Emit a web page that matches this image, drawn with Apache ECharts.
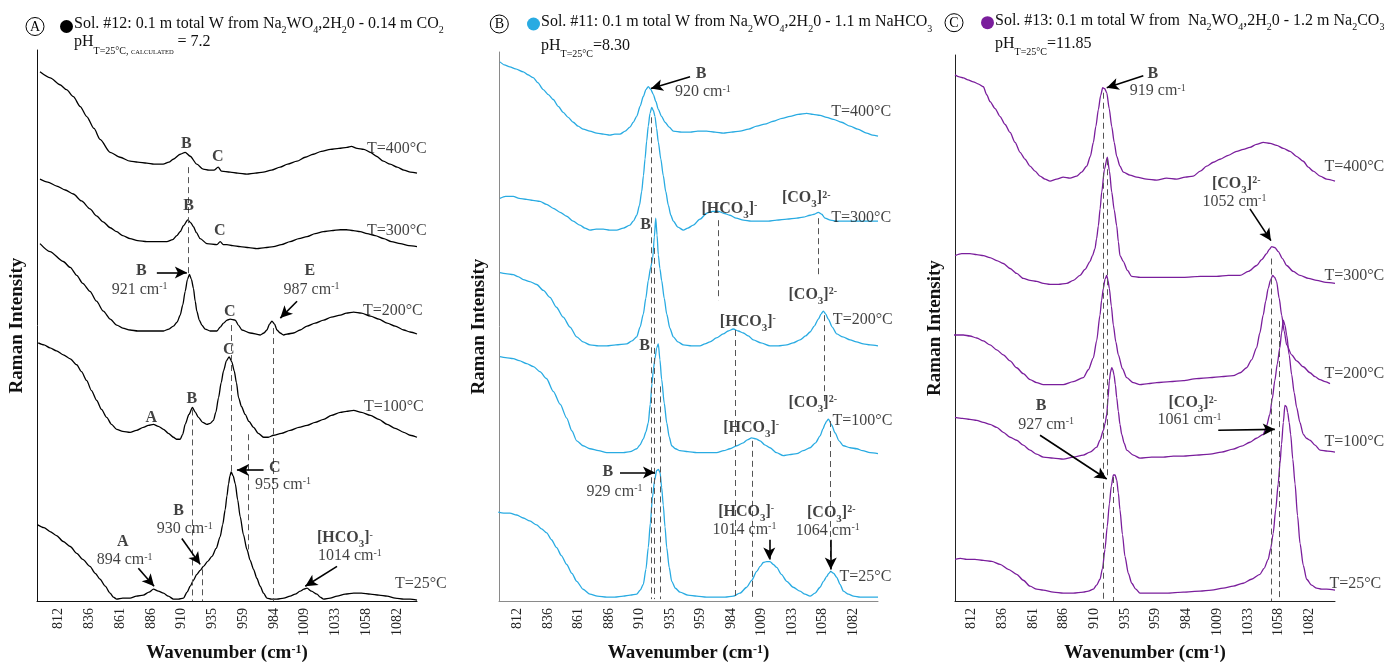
<!DOCTYPE html>
<html><head><meta charset="utf-8">
<script src="https://cdn.jsdelivr.net/npm/echarts@6/dist/echarts.min.js"></script>
<style>html,body{margin:0;padding:0;background:#fff}#c{width:1390px;height:668px}</style>
</head><body><div id="c"></div>
<script>
const FONT = '"Liberation Serif","Times New Roman",serif';
const tickValues = [811.8, 836.4, 861, 885.6, 910.2, 934.8, 959.4, 984, 1008.6, 1033.2, 1057.8, 1082.4];
const temps = ['T=400°C', 'T=300°C', 'T=200°C', 'T=100°C', 'T=25°C'];

// Panel A : Sol. #12 (wavenumber, intensity)
const A400 = [[796.8,533],[805,527],[812.8,520],[818,515],[823.5,508],[829,498],[834.2,488],[840,476],[844.9,465],[852.9,452],[860.9,447],[868.9,443],[875,442],[882.3,441],[888,440],[895.3,440],[900,442],[903.4,445],[909,450],[913,452],[917,448],[922.3,440],[927.4,435],[932,434],[936,434],[939.4,437],[942,433],[949,432],[955,431],[962.4,430],[969,431],[975.5,432],[982,434],[989,437],[995,440],[1002.5,443],[1009,447],[1015.5,450],[1022,453],[1029.2,455],[1036,456],[1042.5,457],[1046,458],[1050.5,456],[1056,455],[1061.2,452],[1066,448],[1071.6,443],[1077,440],[1082.6,437],[1088,434],[1093.3,432],[1098.5,431]];
const A300 = [[796.8,425],[803,422],[810.2,418],[817,414],[823.5,410],[830,403],[836.8,395],[842,388],[847.3,382],[853,376],[858.2,372],[863,368],[868.9,365],[875,363],[882.3,362],[890,362],[898.3,362],[903,364],[906.3,368],[909,372],[911.6,378],[915.1,384],[917.5,381],[919.6,377],[922,371],[925,365],[930.4,360],[938.4,359],[941,362],[943.5,359],[946.4,359],[951,358],[957,357],[964,356],[970.4,355],[977,356],[983.7,357],[990,359],[997,362],[1004,365],[1010.5,367],[1017,370],[1023.6,372],[1030,373],[1037.2,374],[1042,374],[1047.6,373],[1053,372],[1058.6,370],[1065,368],[1071.9,365],[1078,362],[1085.2,360],[1092,358],[1098.5,357]];
const A200 = [[796.8,360],[804.8,352],[815.4,342],[821,336],[826.2,328],[831,320],[836.8,312],[842,302],[847.5,292],[853,284],[858.2,278],[863,275],[868.9,273],[875,272],[882.3,272],[889,272],[895.6,272],[900,274],[903.6,277],[906.5,281],[909,288],[911,298],[913,312],[914.8,324],[916.4,329],[918,324],[919.6,315],[921,302],[922.3,292],[924.3,283],[926.3,278],[929,274],[933,272],[938.4,272],[941,276],[943.7,280],[946.5,283],[949,284],[953.1,283],[955.5,278],[958.4,273],[965,270],[973,268],[976,270],[978.4,273],[980.5,279],[982.4,282],[984.5,279],[986.4,273],[989,270],[991.7,268],[995,269],[999.7,270],[1005,273],[1010.5,277],[1017,280],[1023.8,283],[1030,286],[1037.2,288],[1042,290],[1047.8,291],[1054,290],[1061.2,287],[1068,284],[1074.6,280],[1081,277],[1087.9,273],[1093,271],[1098.5,269]];
const A100 = [[795.4,260],[800,258],[804.8,255],[810,252],[815.4,248],[821,244],[826.2,238],[830,231],[834.2,222],[838,212],[842.2,202],[846,193],[850.2,185],[854,178],[858.2,173],[863,171],[868.9,170],[874,172],[879.5,175],[883.5,177],[887.6,178],[891.5,176],[895.6,173],[899.5,169],[903.6,165],[906,163],[909,163],[911,168],[913,178],[916,188],[918.8,195],[921.2,190],[923.6,185],[927,180],[930.4,178],[933,179],[935.6,182],[937.5,190],[939.7,205],[941.8,220],[943.7,232],[946,242],[948.2,246],[950.3,241],[952.2,232],[954,220],[955.7,205],[958,196],[961,188],[964,181],[967.7,175],[971.5,169],[975.7,165],[979.5,165],[983.7,167],[990,169],[997,172],[1004,175],[1010.5,177],[1017,180],[1023.8,183],[1030,187],[1037.2,190],[1042,191],[1047.8,192],[1054,190],[1061.2,187],[1068,183],[1074.6,178],[1081,174],[1087.9,170],[1093,167],[1098.5,165]];
const A25 = [[794.6,77],[800,74],[804.8,70],[810,66],[815.4,60],[821,55],[826.2,48],[831,42],[836.8,35],[841,28],[844.9,22],[849,15],[852.9,8],[855.5,4],[858.2,2],[863,3],[868.9,3],[874,5],[879.5,6],[884,9],[887.6,12],[891.5,10],[895.6,8],[899.5,5],[903.6,2],[907.5,2],[911.6,3],[914.5,9],[917,15],[919.6,21],[922.3,27],[925,31],[927.6,35],[931,40],[934.4,45],[937.8,53],[941,65],[943,77],[945,92],[946.4,106],[947.7,118],[948.8,126],[949.8,130],[951.4,126],[953.1,118],[955,102],[957,85],[959.6,67],[962.4,52],[965,41],[967.7,32],[970.3,23],[973,15],[975.7,8],[978.4,3],[982,2],[986.4,2],[992,3],[997,5],[1001,7],[1005,10],[1008,12],[1010.5,13],[1014,10],[1018.5,7],[1021,4],[1023.8,2],[1029,3],[1034.5,5],[1041,7],[1047.8,8],[1054,8],[1061.2,7],[1068,6],[1074.6,5],[1081,3],[1087.9,2],[1093,2],[1098.5,1]];

// Panel B : Sol. #11
const B400 = [[797.5,545],[801,542],[805.5,540],[810,538],[816.3,535],[820,532],[824.3,529],[828,524],[832.4,517],[836.5,512],[840.5,507],[844.5,500],[848.5,494],[852.5,489],[856.6,484],[860.5,480],[864.7,477],[870,475],[875.5,473],[881,472],[886.2,471],[890,472],[894.3,472],[898.5,475],[902.3,479],[905,484],[907.8,490],[910.5,500],[913.1,510],[915.2,517],[917.1,520],[919.2,517],[921.2,512],[923.2,505],[925.2,497],[927.8,490],[930.6,484],[934,479],[937.3,475],[944,474],[951,474],[957,475],[964.2,475],[971,474],[977.6,473],[984,474],[991.1,475],[998,477],[1004.6,480],[1011,482],[1018,485],[1025,488],[1031.5,490],[1038,492],[1044.9,493],[1050,492],[1055.7,491],[1061,489],[1066.4,487],[1073,484],[1079.9,480],[1086,477],[1093.3,473],[1098,471],[1102.4,470]];
const B300 = [[797.5,407],[802,409],[808.2,409],[813,407],[819,406],[824,405],[829.7,404],[835,401],[840.5,397],[846,393],[851.3,389],[856.5,384],[862,380],[866,377],[870.1,375],[875,376],[880.8,376],[886,375],[891.6,375],[897,377],[902.3,380],[905,384],[907.8,390],[910,400],[911.8,414],[913.2,430],[914.5,447],[915.8,465],[917.1,480],[918.5,493],[919.9,499],[921.2,496],[922.5,490],[923.8,478],[925.2,464],[927.2,447],[929.2,430],[931.2,414],[933.3,400],[935.3,390],[937.3,384],[941,378],[945.4,375],[949,377],[953.4,380],[958.8,386],[964.2,392],[969,394],[973.6,394],[978,392],[983,390],[988,387],[993.8,385],[1000,384],[1007.2,384],[1014,384],[1020.7,385],[1029,386],[1036.9,387],[1042,388],[1047.6,390],[1051,391],[1054.3,393],[1057,391],[1059.7,387],[1064,385],[1069.1,384],[1077,384],[1085.3,384],[1094,384],[1102.4,384]];
const B200 = [[797.5,332],[802,331],[808.2,330],[812,328],[816.3,325],[821.5,323],[827.1,320],[832.5,314],[837.8,307],[843,297],[848.5,287],[854,277],[859.4,267],[864.5,262],[870.1,259],[877,258],[883.6,258],[891,259],[899.7,260],[904,263],[907.8,267],[910.5,277],[913.1,290],[915.1,306],[917.1,324],[919,337],[920.7,347],[922,368],[923.1,387],[924.2,370],[925.2,350],[926.5,336],[927.9,324],[930,306],[932,290],[934.5,276],[937.3,267],[941,262],[945.4,259],[952,258],[958.8,258],[962.8,260],[966.9,262],[972,266],[977.6,270],[981.5,273],[985.7,275],[989.7,273],[993.8,271],[997.8,268],[1001.8,264],[1008,261],[1015.3,258],[1022,258],[1028.8,259],[1034,261],[1039.5,264],[1044,268],[1047.6,272],[1051,278],[1054.3,285],[1056.4,290],[1058.3,293],[1060.3,290],[1062.3,285],[1065.5,277],[1069.1,270],[1074,267],[1079.9,264],[1085,262],[1090.6,260],[1096,259],[1102.4,258]];
const B100 = [[797.5,247],[802,246],[808.2,245],[813,243],[819,240],[824.5,237],[829.7,232],[835,225],[840.5,212],[846,199],[851.3,185],[855.5,172],[859.4,162],[864.5,157],[870.1,154],[877,152],[883.6,150],[890,150],[897,150],[902.5,151],[907.8,154],[910.5,158],[913.1,164],[915.2,171],[917.1,180],[918.7,199],[920.1,220],[921.3,235],[922.5,245],[923.9,256],[925.2,260],[926.5,244],[927.9,224],[930,200],[932,180],[934,166],[936,157],[939,154],[942.7,152],[949,151],[956.2,150],[964,150],[972.3,150],[978,152],[983,154],[988.5,157],[993.8,160],[997,163],[1000.5,165],[1004,164],[1007.3,162],[1011,158],[1015.3,155],[1020.5,150],[1026,147],[1031,148],[1036.9,149],[1042,152],[1047.6,155],[1052,160],[1055.7,167],[1058,174],[1059.7,179],[1061,182],[1062.4,184],[1065,178],[1067.8,170],[1071,162],[1074.5,157],[1080,155],[1085.3,154],[1090,152],[1096,150],[1102.4,149]];
const B25 = [[796.1,90],[800.5,89],[805.5,89],[811,87],[816.3,84],[821.5,81],[827.1,77],[831,73],[835.2,69],[839,62],[843.2,54],[847,46],[851.3,37],[855.5,28],[859.4,20],[864.5,12],[870.1,7],[876,5],[883.6,4],[890,4],[897,5],[902.5,6],[907.8,7],[910.6,11],[913.1,17],[915.2,32],[917.1,54],[918.8,79],[920.4,104],[922.2,122],[923.9,132],[925.3,133],[926.6,130],[927.9,115],[929.2,97],[930.6,75],[932,54],[934,34],[936,20],[939,13],[942.7,9],[949,6],[956.2,5],[964,4],[972.3,4],[979,4],[985.7,5],[991,8],[996.5,14],[1000.5,21],[1004.6,30],[1007.3,35],[1009.9,39],[1012.6,40],[1015.3,40],[1018,37],[1020.7,34],[1024.5,27],[1028.8,20],[1034,14],[1039.5,10],[1043.5,7],[1047.6,5],[1051.6,8],[1055.7,14],[1058.4,20],[1061.1,25],[1062.7,28],[1064.3,30],[1066.7,28],[1069.1,24],[1071.8,17],[1074.5,10],[1078.5,7],[1082.6,5],[1088,4],[1093.3,4],[1098,4],[1102.4,4]];

// Panel C : Sol. #13
const C400 = [[798.6,530],[802,528],[805.3,527],[809,525],[813.3,523],[817,521],[821.3,518],[824,510],[826.7,503],[830.7,496],[834.7,488],[838.7,480],[842.7,472],[846.7,462],[850.7,452],[854.7,445],[858.7,438],[862.7,433],[866.7,428],[870.7,425],[874.7,423],[880,425],[885.3,427],[890.7,426],[896.1,428],[900,432],[904.1,438],[907,448],[909.4,462],[911.4,478],[913.4,495],[915.2,509],[916.9,517],[918.5,516],[920.1,512],[922.1,496],[924.1,478],[926.1,462],[928.1,448],[930.7,438],[933.4,432],[938.7,429],[944.1,427],[952,425],[960.1,424],[968,426],[976.1,425],[983,427],[989.4,428],[995,433],[1000.1,438],[1005.5,442],[1010.8,445],[1017.5,449],[1024.2,453],[1029.5,455],[1034.8,457],[1040,460],[1045.5,462],[1051,461],[1056.2,459],[1061.5,456],[1066.9,453],[1072,448],[1077.5,443],[1081.5,437],[1085.5,433],[1091,428],[1096.2,425],[1102.9,423]];
const C300 = [[798.6,348],[804,350],[810.6,350],[816,349],[821.3,348],[826.5,346],[832,343],[837.3,340],[842.7,335],[848,330],[853.3,325],[858.7,323],[864,322],[869.3,320],[874.7,319],[881.4,319],[888.1,320],[893.4,323],[898.7,328],[902.7,334],[906.7,342],[908.7,348],[910.7,355],[912,365],[913.4,378],[914.8,395],[916.1,412],[918.3,435],[920.6,447],[922.3,433],[924.1,412],[926.1,394],[928.1,378],[929.4,362],[930.7,348],[933.4,342],[936.7,333],[940.1,327],[947,326],[954.8,326],[968,326],[981.4,326],[995,327],[1008.1,327],[1017.5,328],[1026.8,328],[1033.5,332],[1040.2,338],[1044.2,344],[1048.2,350],[1050.2,354],[1052.2,357],[1054.8,356],[1057.5,352],[1060.8,345],[1064.2,338],[1069.5,332],[1074.9,328],[1081.6,325],[1088.3,323],[1095.6,321],[1102.9,320]];
const C200 = [[797.3,268],[801,268],[805.3,268],[810.6,267],[816,265],[821.3,262],[826.7,258],[832,253],[837.3,248],[842.7,242],[848,235],[853.3,229],[858.7,223],[864,220],[869.3,218],[877.3,218],[885.3,218],[893.3,221],[901.3,225],[905.4,233],[909.4,245],[912,262],[914.7,288],[916,303],[917.4,315],[918.7,324],[920.1,328],[921.1,323],[922.2,315],[923.8,297],[925.4,278],[927.4,261],[929.4,248],[932.7,234],[936.1,225],[941.4,220],[946.7,218],[953.4,219],[960.1,220],[970.8,221],[981.4,222],[992,224],[1002.8,225],[1012,226],[1021.4,227],[1027,230],[1032.1,235],[1036.1,243],[1040.1,255],[1042.7,270],[1045.4,288],[1047.4,302],[1049.4,315],[1051.2,323],[1053,328],[1054.6,326],[1056.1,322],[1058.2,305],[1060.2,288],[1062.2,272],[1064.2,258],[1068.2,248],[1072.2,242],[1077.5,236],[1082.9,230],[1086.9,226],[1090.9,223],[1095,221],[1098.9,219]];
const C100 = [[798.6,185],[804.6,184],[810.6,183],[816,182],[821.3,180],[826.6,178],[832,175],[837.3,170],[842.7,165],[848,162],[853.3,157],[858.7,152],[864,148],[869.3,145],[877.3,144],[885.3,143],[893.3,145],[901.3,147],[906.7,150],[912.1,155],[914.7,162],[917.4,172],[918.8,179],[920.1,188],[921.2,205],[922.2,222],[923.2,231],[924.1,235],[925,233],[925.9,228],[927,218],[928.1,205],[929.4,191],[930.7,178],[932.1,168],[934.1,159],[936.1,152],[941.4,147],[946.7,144],[956,145],[965.4,145],[973.4,146],[981.4,146],[992,147],[1002.8,148],[1012,150],[1021.4,153],[1028,156],[1034.8,160],[1040,164],[1045.4,168],[1048,176],[1050.7,188],[1052.7,204],[1054.7,222],[1056.7,239],[1058.7,255],[1060.1,270],[1061.5,283],[1062.8,278],[1064.2,268],[1066.2,248],[1068.2,228],[1070.2,210],[1072.2,195],[1074.8,180],[1077.5,168],[1080,164],[1082.9,162],[1086.9,157],[1090.9,152],[1096.9,151],[1102.9,150]];
const C25 = [[798.6,42],[803,43],[808,42],[814.6,42],[821.3,41],[828,40],[834.7,37],[841.3,32],[848,27],[853.3,21],[858.7,15],[864,12],[869.3,11],[877.3,9],[885.3,8],[893.3,8],[901.3,9],[905.4,10],[909.4,12],[912,16],[914.7,22],[916.7,33],[918.7,52],[920.5,75],[922.2,98],[923.8,116],[925.4,127],[926.8,127],[928.1,122],[929.4,109],[930.7,92],[932.7,67],[934.7,45],[937.4,28],[940.1,18],[943.4,12],[946.7,8],[957,8],[968.1,8],[981.4,9],[994.8,10],[1004,11],[1013.4,13],[1021.4,15],[1029.4,18],[1036,22],[1042.8,27],[1046.1,33],[1049.4,42],[1051.4,53],[1053.4,68],[1055.4,92],[1057.4,118],[1058.8,138],[1060.1,158],[1061.5,180],[1062.8,197],[1064,196],[1065,190],[1066.2,180],[1067.4,168],[1069.1,143],[1070.9,118],[1072.9,86],[1074.9,58],[1077.5,36],[1080.2,22],[1084.2,16],[1088.2,13],[1092.2,12],[1096.2,12],[1102.9,11]];

// annotation texts and anchor points (data space)
const cm = v => '{n|' + v + ' cm}{p|-1}';
const HCO3 = '{bo|[HCO}{bs|3}{bo|]}{p|-}';
const CO3 = '{bo|[CO}{bs|3}{bo|]}{bp|2-}';
const B_ = '{bo|B}', C_ = '{bo|C}', A_ = '{bo|A}', E_ = '{bo|E}';
const T_ = i => '{n|' + temps[i] + '}';

const notesA = [
  {t:B_, x:914.3, y:460}, {t:C_, x:939.4, y:447}, {t:T_(0), x:1058.8, y:455, left:1},
  {t:B_, x:916.2, y:398}, {t:C_, x:941, y:372}, {t:T_(1), x:1058.8, y:372, left:1},
  {t:B_, x:878.3, y:332}, {t:cm(921), x:876.9, y:313}, {t:C_, x:949, y:291},
  {t:E_, x:1013.1, y:332}, {t:cm(987), x:1014.5, y:313}, {t:T_(2), x:1055.6, y:292, left:1},
  {t:A_, x:886.3, y:184}, {t:B_, x:918.8, y:203}, {t:C_, x:948.2, y:253}, {t:T_(3), x:1056.4, y:195, left:1},
  {t:C_, x:985.1, y:134}, {t:cm(955), x:991.7, y:117},
  {t:B_, x:908.2, y:90}, {t:cm(930), x:913, y:72},
  {t:A_, x:863.5, y:59}, {t:cm(894), x:864.9, y:41},
  {t:HCO3, x:1041.2, y:63}, {t:cm(1014), x:1045.2, y:45}, {t:T_(4), x:1081.2, y:17, left:1}
];
const arrowsA = [[[890.3,331],[914.3,331]], [[1002.5,302],[989.1,285]], [[975.7,132],[954.4,132]],
  [[910.3,63],[925,37]], [[875.5,33],[888.1,15]], [[1034.5,35],[1009.1,15]]];
const dashA = [[915.1,437,330],[918.4,193,0],[926.4,32,0],[949.8,278,130],[963.4,168,52],[983.2,275,0]];

const notesB = [
  {t:B_, x:960.2, y:532}, {t:cm(920), x:961.5, y:514}, {t:T_(0), x:1065.1, y:494, left:1},
  {t:HCO3, x:983, y:396}, {t:CO3, x:1044.9, y:407}, {t:T_(1), x:1065.1, y:387, left:1},
  {t:B_, x:915.3, y:380}, {t:HCO3, x:997.8, y:282}, {t:CO3, x:1050.2, y:309}, {t:T_(2), x:1066.4, y:284, left:1},
  {t:B_, x:914.5, y:257}, {t:HCO3, x:1000.5, y:175}, {t:CO3, x:1050.2, y:200}, {t:T_(3), x:1066.1, y:182, left:1},
  {t:B_, x:884.9, y:130}, {t:cm(929), x:890.3, y:110},
  {t:HCO3, x:996.5, y:90}, {t:cm(1014), x:995.1, y:72},
  {t:CO3, x:1065.1, y:89}, {t:cm(1064), x:1062.3, y:71}, {t:T_(4), x:1071.8, y:24, left:1}
];
const arrowsB = [[[950.8,530],[919.3,518]], [[894.3,130],[922.5,130]], [[1014.7,62],[1014.7,42]], [[1064.3,62],[1064.3,32]]];
const dashB = [[919.9,489,2],[922.1,357,2],[926.6,217,2],[973.6,385,304],[987.1,274,2],[1001,162,2],[1054.3,387,327],[1059.1,289,200],[1063.7,182,30]];

const notesC = [
  {t:B_, x:957.4, y:531}, {t:cm(919), x:961.4, y:513}, {t:T_(0), x:1094.8, y:437, left:1},
  {t:CO3, x:1024.2, y:420}, {t:cm(1052), x:1022.8, y:402}, {t:T_(1), x:1094.8, y:327, left:1},
  {t:T_(2), x:1094.8, y:228, left:1},
  {t:B_, x:868, y:196}, {t:cm(927), x:872, y:177},
  {t:CO3, x:989.4, y:199}, {t:cm(1061), x:986.8, y:182}, {t:T_(3), x:1094.8, y:160, left:1},
  {t:T_(4), x:1098.8, y:17, left:1}
];
const arrowsC = [[[949.4,529],[920.1,517]], [[1034.8,395],[1051.6,363]], [[866.7,167],[920.1,123]], [[1009.4,172],[1054.7,173]]];
const dashC = [[917.4,512,0],[920.6,445,125],[925.4,125,0],[1052.2,345,0],[1058,282,0]];

const rich = {
  bo: {fontFamily: FONT, fontSize: 16, fontWeight: 'bold', lineHeight: 18, verticalAlign: 'top', color: '#111'},
  n:  {fontFamily: FONT, fontSize: 16, lineHeight: 18, verticalAlign: 'top', color: '#111'},
  p:  {fontFamily: FONT, fontSize: 10, lineHeight: 10, verticalAlign: 'top', color: '#111'},
  bp: {fontFamily: FONT, fontSize: 10, fontWeight: 'bold', lineHeight: 10, verticalAlign: 'top', color: '#111'},
  bs: {fontFamily: FONT, fontSize: 11, fontWeight: 'bold', lineHeight: 20, verticalAlign: 'bottom', color: '#111'}
};

const panels = [
  {grid: {left: 37, top: 50, width: 380, height: 555}, xr: [794.4, 1098.5], yMax: 555, color: '#000', axisColor: '#111',
   spectra: [A400, A300, A200, A100, A25], notes: notesA, arrows: arrowsA, dashes: dashA},
  {grid: {left: 499, top: 52, width: 379, height: 555}, xr: [796.7, 1102.4], yMax: 555, color: '#29abe2', axisColor: '#8a8a8a',
   spectra: [B400, B300, B200, B100, B25], notes: notesB, arrows: arrowsB, dashes: dashB},
  {grid: {left: 955, top: 55, width: 380, height: 550}, xr: [798.6, 1102.9], yMax: 550, color: '#7a1e9c', axisColor: '#222',
   spectra: [C400, C300, C200, C100, C25], notes: notesC, arrows: arrowsC, dashes: dashC}
];

const grid = [], xAxis = [], yAxis = [], series = [];
panels.forEach((P, i) => {
  grid.push(P.grid);
  xAxis.push({
    type: 'value', gridIndex: i, min: P.xr[0], max: P.xr[1],
    axisLine: {show: true, lineStyle: {color: P.axisColor, width: 1}},
    axisTick: {show: false}, splitLine: {show: false},
    axisLabel: {customValues: tickValues, rotate: 90, margin: 7, formatter: v => String(Math.round(v)),
      fontFamily: FONT, fontSize: 14, color: '#222'},
    name: '{w|Wavenumber (cm}{s|-1}{w|)}', nameLocation: 'middle', nameGap: 40,
    nameTextStyle: {rich: {
      w: {fontFamily: FONT, fontSize: 19, fontWeight: 'bold', lineHeight: 22, verticalAlign: 'top', color: '#111'},
      s: {fontFamily: FONT, fontSize: 12, fontWeight: 'bold', lineHeight: 9, verticalAlign: 'top', color: '#111'}}}
  });
  yAxis.push({
    type: 'value', gridIndex: i, min: 0, max: P.yMax,
    axisLine: {show: true, lineStyle: {color: P.axisColor, width: 1}},
    axisTick: {show: false}, axisLabel: {show: false}, splitLine: {show: false},
    name: 'Raman Intensity', nameLocation: 'middle', nameGap: 10,
    nameTextStyle: {fontFamily: FONT, fontSize: 19, fontWeight: 'bold', color: '#111'}
  });
  P.spectra.forEach(s => series.push({
    type: 'line', xAxisIndex: i, yAxisIndex: i, data: s, showSymbol: false, symbol: 'none',
    smooth: 0.25, smoothMonotone: 'x', silent: true, z: 3,
    lineStyle: {color: P.color, width: 1.3}
  }));
  const ml = [];
  P.dashes.forEach(d => ml.push([
    {coord: [d[0], d[1]], lineStyle: {color: '#555', width: 1, type: [6, 4]}},
    {coord: [d[0], d[2]]}
  ]));
  P.arrows.forEach(a => ml.push([
    {coord: a[0], lineStyle: {color: '#000', width: 1.6, type: 'solid'}},
    {coord: a[1], symbol: 'arrow', symbolSize: [9, 12]}
  ]));
  series.push({
    type: 'scatter', xAxisIndex: i, yAxisIndex: i, symbolSize: 1, silent: true, z: 5,
    itemStyle: {color: 'rgba(0,0,0,0)'},
    data: P.notes.map(nt => ({value: [nt.x, nt.y], t: nt.t, label: {align: nt.left ? 'left' : 'center'}})),
    label: {show: true, position: [0, 0], verticalAlign: 'top', offset: [0, -8], formatter: p => p.data.t, rich: rich},
    markLine: {silent: true, symbol: ['none', 'none'], label: {show: false}, animation: false, data: ml}
  });
});

const tRich = {
  n:  {fontFamily: FONT, fontSize: 16, lineHeight: 18, verticalAlign: 'top', fill: '#111'},
  s:  {fontFamily: FONT, fontSize: 10, lineHeight: 20, verticalAlign: 'bottom', fill: '#111'},
  ps: {fontFamily: FONT, fontSize: 10, lineHeight: 22, verticalAlign: 'bottom', fill: '#111'},
  pss:{fontFamily: FONT, fontSize: 6.5, lineHeight: 22, verticalAlign: 'bottom', fill: '#111'}
};
function header(letter, cx, cy, dotColor, tx, y1, y2, line1, line2) {
  return [
    {type: 'circle', shape: {cx: cx, cy: cy, r: 9}, style: {fill: 'none', stroke: '#000', lineWidth: 1}},
    {type: 'text', x: cx, y: cy + 0.5, style: {text: letter, fontFamily: FONT, fontSize: 14, align: 'center', verticalAlign: 'middle', fill: '#000'}},
    {type: 'circle', shape: {cx: tx - 7.5, cy: cy, r: 6.5}, style: {fill: dotColor}},
    {type: 'text', x: tx, y: y1, style: {text: line1, rich: tRich, verticalAlign: 'top', align: 'left'}},
    {type: 'text', x: tx, y: y2, style: {text: line2, rich: tRich, verticalAlign: 'top', align: 'left'}}
  ];
}
const graphic = [].concat(
  header('A', 35, 26.5, '#000', 74, 15.6, 34,
    '{n|Sol. #12: 0.1 m total W from Na}{s|2}{n|WO}{s|4}{n|,2H}{s|2}{n|0 - 0.14 m CO}{s|2}',
    '{n|pH}{ps|T=25°C, }{pss|CALCULATED}{n| = 7.2}'),
  header('B', 499.3, 24, '#29abe2', 541, 14, 37.3,
    '{n|Sol. #11: 0.1 m total W from Na}{s|2}{n|WO}{s|4}{n|,2H}{s|2}{n|0 - 1.1 m NaHCO}{s|3}',
    '{n|pH}{ps|T=25°C}{n|=8.30}'),
  header('C', 954, 22.7, '#7a1e9c', 995, 12.3, 35.6,
    '{n|Sol. #13: 0.1 m total W from  Na}{s|2}{n|WO}{s|4}{n|,2H}{s|2}{n|0 - 1.2 m Na}{s|2}{n|CO}{s|3}',
    '{n|pH}{ps|T=25°C}{n|=11.85}')
);

const chart = echarts.init(document.getElementById('c'));
chart.setOption({animation: false, backgroundColor: '#fff', grid, xAxis, yAxis, series, graphic});
</script></body></html>
